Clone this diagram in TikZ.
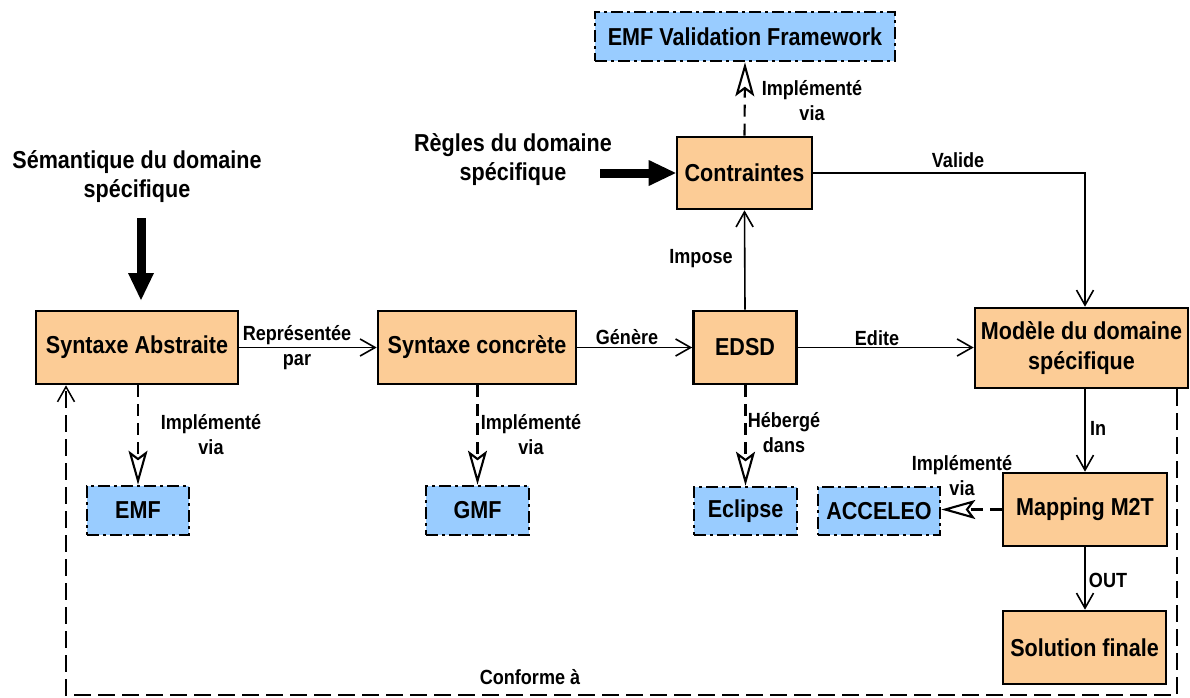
\documentclass[tikz,border=0pt]{standalone}
\usepackage{fontspec}
\setmainfont{Liberation Sans}[FakeStretch=0.88]
\usepackage{tikz}
\usetikzlibrary{arrows.meta}
\definecolor{procfill}{HTML}{FCCC96}
\definecolor{toolfill}{HTML}{99CCFF}
\tikzset{
    procbox/.style={draw, line width=2.6pt, fill=procfill, align=center, inner sep=0pt,
        font=\fontsize{24.5}{30}\selectfont\bfseries},
    toolbox/.style={draw, line width=2.6pt, fill=toolfill, align=center, inner sep=0pt,
        dash pattern=on 12pt off 4pt on 3pt off 4pt,
        font=\fontsize{24.5}{30}\selectfont\bfseries},
    edgelabel/.style={align=center, inner sep=0pt, font=\fontsize{20.5}{25}\selectfont\bfseries},
    bigtext/.style={align=center, inner sep=0pt, font=\fontsize{24.5}{29}\selectfont\bfseries},
    flow/.style={line width=1.6pt, -{Straight Barb[length=15pt,width=17pt]}},
    implvia/.style={line width=2.1pt, dash pattern=on 12pt off 7pt,
        -{Stealth[open,length=34pt,width=19pt,inset=7pt]}},
    conform/.style={line width=1.5pt, dash pattern=on 17pt off 7pt,
        -{Straight Barb[length=15pt,width=17pt]}},
    bigarrow/.style={line width=9pt, -{Triangle[length=27pt,width=26pt,line width=0pt]}}
}

\begin{document}
\begin{tikzpicture}[x=1pt,y=-1pt]
    \useasboundingbox (0,0) rectangle (1190,697);

    % main chain
    \node[procbox, minimum width=202, minimum height=73] (sa) at (137,347.5) {Syntaxe Abstraite};
    \node[procbox, minimum width=198, minimum height=73] (sc) at (477,347.5) {Syntaxe concrète};
    \node[procbox, minimum width=103, minimum height=73] (edsd) at (745,347.5) {EDSD};
    \node[procbox, minimum width=213, minimum height=80] (mds) at (1081.5,348) {Modèle du domaine\\spécifique};
    \node[procbox, minimum width=135, minimum height=72] (con) at (744.5,173) {Contraintes};
    \node[procbox, minimum width=164, minimum height=73] (m2t) at (1085,509.5) {Mapping M2T};
    \node[procbox, minimum width=163, minimum height=73] (sol) at (1084.5,647.5) {Solution finale};

    % tools
    \node[toolbox, minimum width=300, minimum height=49] (emfv) at (745,36.5) {EMF Validation Framework};
    \node[toolbox, minimum width=102, minimum height=49] (emf) at (138,510.5) {EMF};
    \node[toolbox, minimum width=103, minimum height=49] (gmf) at (477.5,510.5) {GMF};
    \node[toolbox, minimum width=103, minimum height=48] (ecl) at (745.5,511) {Eclipse};
    \node[toolbox, minimum width=122, minimum height=48] (acc) at (879,511) {ACCELEO};

    % inputs
    \node[bigtext] (semtxt) at (137,177) {Sémantique du domaine\\spécifique};
    \node[bigtext] (regtxt) at (513,160) {Règles du domaine\\spécifique};
    \coordinate (semA) at (141,218);
    \coordinate (semB) at (141,300);
    \coordinate (regA) at (600,173);
    \draw[bigarrow] (semA) -- (semB);
    \draw[bigarrow] (regA) -- (con.west);

    % solid links
    \draw[flow] (sa) -- (sc);
    \draw[flow] (sc) -- (edsd);
    \draw[flow] (edsd) -- (mds.west |- edsd);
    \draw[flow] (edsd.north) -- (con.south);
    \draw[flow] (con.east) -| (m2t.north |- mds.north);
    \draw[flow] (m2t.north |- mds.south) -- (m2t.north);
    \draw[flow] (m2t.south) -- (sol.north -| m2t.south);

    % implementation links
    \draw[implvia] (con.north) -- (emfv.south);
    \draw[implvia] (emf.north |- sa.south) -- (emf.north);
    \draw[implvia] (gmf.north |- sc.south) -- (gmf.north);
    \draw[implvia] (ecl.north |- edsd.south) -- (ecl.north);
    \draw[implvia] (m2t.west) -- (m2t.west -| acc.east);

    % conformance loop
    \coordinate (cfR) at (1177,695);
    \coordinate (cfL) at (66,695);
    \draw[conform] (cfR |- mds.south) -- (cfR) -- (cfL) -- (cfL |- sa.south);

    % labels
    \node[edgelabel] (lrep) at (297,347.5) {Représentée\\par};
    \node[edgelabel] (lgen) at (627,337) {Génère};
    \node[edgelabel] (ledi) at (877,338) {Edite};
    \node[edgelabel] (limp) at (701,259) {Impose};
    \node[edgelabel] (lval) at (958,160) {Valide};
    \node[edgelabel] (lvt) at (812,101) {Implémenté\\via};
    \node[edgelabel] (lva) at (211,434.5) {Implémenté\\via};
    \node[edgelabel] (lvg) at (531,435) {Implémenté\\via};
    \node[edgelabel] (lheb) at (784,432.5) {Hébergé\\dans};
    \node[edgelabel] (lvc) at (962,476) {Implémenté\\via};
    \node[edgelabel] (lin) at (1098,428) {In};
    \node[edgelabel] (lout) at (1108,580) {OUT};
    \node[edgelabel] (lconf) at (530,677) {Conforme à};
\end{tikzpicture}
\end{document}
